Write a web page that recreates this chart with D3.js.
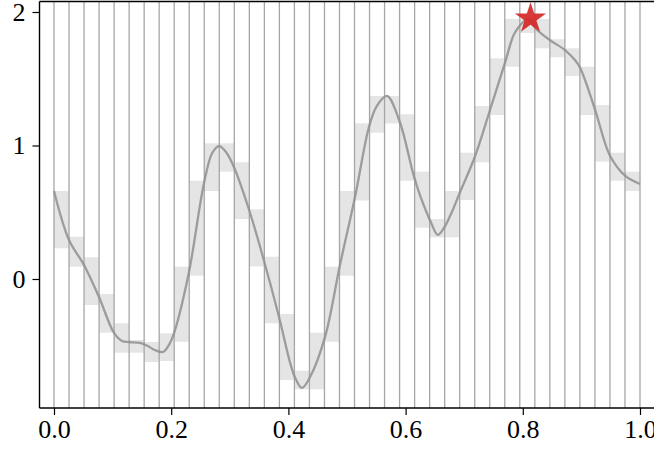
<!DOCTYPE html>
<html>
<head>
<meta charset="utf-8">
<script src="https://cdn.jsdelivr.net/npm/d3@7"></script>
<style>
  html, body { margin: 0; padding: 0; background: #fff; }
  svg { display: block; }
  .tick text { font-family: "Liberation Serif", "Times New Roman", serif; }
</style>
</head>
<body>
<div id="chart"></div>
<script>
// Smooth signal samples (x, y)
const curveX = [0, 0.0256, 0.0512, 0.0768, 0.1024, 0.116, 0.128, 0.1468, 0.160, 0.172, 0.186, 0.198, 0.205,
  0.230, 0.256, 0.270, 0.2816, 0.2935, 0.307, 0.333, 0.358, 0.384, 0.403, 0.411, 0.423, 0.437, 0.4625,
  0.488, 0.5137, 0.5375, 0.551, 0.568, 0.589, 0.614, 0.6245, 0.643, 0.655, 0.6655, 0.679, 0.693, 0.718,
  0.744, 0.771, 0.787, 0.8106, 0.821, 0.846, 0.872, 0.889, 0.898, 0.923, 0.949, 0.975, 1.0];
const curveY = [0.659, 0.292, 0.105, -0.135, -0.404, -0.464, -0.472, -0.479, -0.502, -0.532, -0.547, -0.479, -0.404,
  0.045, 0.719, 0.944, 0.996, 0.951, 0.839, 0.517, 0.142, -0.285, -0.629, -0.734, -0.816, -0.734, -0.434,
  0.105, 0.614, 1.139, 1.296, 1.371, 1.191, 0.772, 0.629, 0.427, 0.330, 0.382, 0.502, 0.652, 0.914,
  1.266, 1.640, 1.850, 1.951, 1.880, 1.790, 1.715, 1.640, 1.581, 1.273, 0.921, 0.772, 0.712];

// Per-bin value range (39 equal bins on [0, 1])
const binHigh = [0.659, 0.317, 0.163, -0.112, -0.332, -0.457, -0.472, -0.407, 0.092, 0.736,
  1.016, 1.016, 0.874, 0.522, 0.167, -0.262, -0.687, -0.402, 0.092, 0.659,
  1.166, 1.371, 1.371, 1.234, 0.804, 0.449, 0.659, 0.946, 1.296, 1.653,
  1.948, 1.948, 1.948, 1.796, 1.728, 1.590, 1.303, 0.946, 0.804];
const binLow = [0.230, 0.092, -0.195, -0.402, -0.552, -0.552, -0.622, -0.614, -0.470, 0.025,
  0.659, 0.804, 0.449, 0.094, -0.332, -0.757, -0.826, -0.826, -0.470, 0.025,
  0.588, 1.096, 1.165, 0.736, 0.384, 0.312, 0.312, 0.592, 0.874, 1.228,
  1.590, 1.843, 1.728, 1.661, 1.521, 1.228, 0.879, 0.736, 0.659];

const xTicks = [0, 0.2, 0.4, 0.6, 0.8, 1.0];
const yTicks = [0, 1, 2];
const nBins = binHigh.length;

const W = 654, H = 450;
const frame = { left: 39.5, top: 1.5, right: 680, bottom: 408 };

const x = d3.scaleLinear().domain([0, 1]).range([54, 640]);
const y = d3.scaleLinear().domain([0, 2]).range([279, 12]);

const svg = d3.select("#chart").append("svg").attr("width", W).attr("height", H);

svg.append("clipPath").attr("id", "plot-clip")
  .append("rect")
  .attr("x", frame.left).attr("y", frame.top)
  .attr("width", frame.right - frame.left).attr("height", frame.bottom - frame.top);

const plot = svg.append("g").attr("clip-path", "url(#plot-clip)");

// bin edges
const edges = d3.range(nBins + 2).map(i => i / nBins);

// range rectangles per bin
plot.append("g").selectAll("rect")
  .data(d3.range(nBins))
  .join("rect")
  .attr("x", i => x(edges[i]))
  .attr("width", i => x(edges[i + 1]) - x(edges[i]))
  .attr("y", i => y(binHigh[i]))
  .attr("height", i => y(binLow[i]) - y(binHigh[i]))
  .attr("fill", "#e5e5e5");

// bin boundary lines
plot.append("g").selectAll("line")
  .data(edges)
  .join("line")
  .attr("x1", d => x(d)).attr("x2", d => x(d))
  .attr("y1", frame.top).attr("y2", frame.bottom)
  .attr("stroke", "#a6a6a6")
  .attr("stroke-width", 1.3);

// signal curve
const pts = curveX.map((d, i) => [d, curveY[i]]);
plot.append("path")
  .datum(pts)
  .attr("fill", "none")
  .attr("stroke", "#8f8f8f")
  .attr("stroke-opacity", 0.85)
  .attr("stroke-width", 2.3)
  .attr("stroke-linejoin", "round")
  .attr("d", d3.line().x(d => x(d[0])).y(d => y(d[1])).curve(d3.curveCatmullRom.alpha(0.5)));

// marker at the maximum
const iMax = d3.maxIndex(curveY);
svg.append("path")
  .attr("d", d3.symbol().type(d3.symbolStar).size(300)())
  .attr("transform", `translate(${x(curveX[iMax]) + 1.5},${y(curveY[iMax])})`)
  .attr("fill", "#d62728")
  .attr("fill-opacity", 0.92);

// spines
const spines = svg.append("g").attr("stroke", "#000").attr("stroke-width", 1.4).attr("fill", "none");
spines.append("line").attr("x1", frame.left).attr("x2", frame.left).attr("y1", frame.top).attr("y2", frame.bottom);
spines.append("line").attr("x1", frame.left).attr("x2", W + 10).attr("y1", frame.bottom).attr("y2", frame.bottom);
spines.append("line").attr("x1", frame.left).attr("x2", W + 10).attr("y1", frame.top).attr("y2", frame.top);

// axes
const xAxis = svg.append("g")
  .attr("transform", `translate(0,${frame.bottom})`)
  .call(d3.axisBottom(x).tickValues(xTicks).tickFormat(d3.format(".1f")).tickSize(7).tickPadding(5));
const yAxis = svg.append("g")
  .attr("transform", `translate(${frame.left},0)`)
  .call(d3.axisLeft(y).tickValues(yTicks).tickFormat(d3.format("d")).tickSize(7).tickPadding(7));

[xAxis, yAxis].forEach(g => {
  g.select(".domain").remove();
  g.selectAll(".tick line").attr("stroke", "#000").attr("stroke-width", 1.2);
  g.selectAll(".tick text").attr("fill", "#000").style("font-size", "26px");
});
</script>
</body>
</html>
